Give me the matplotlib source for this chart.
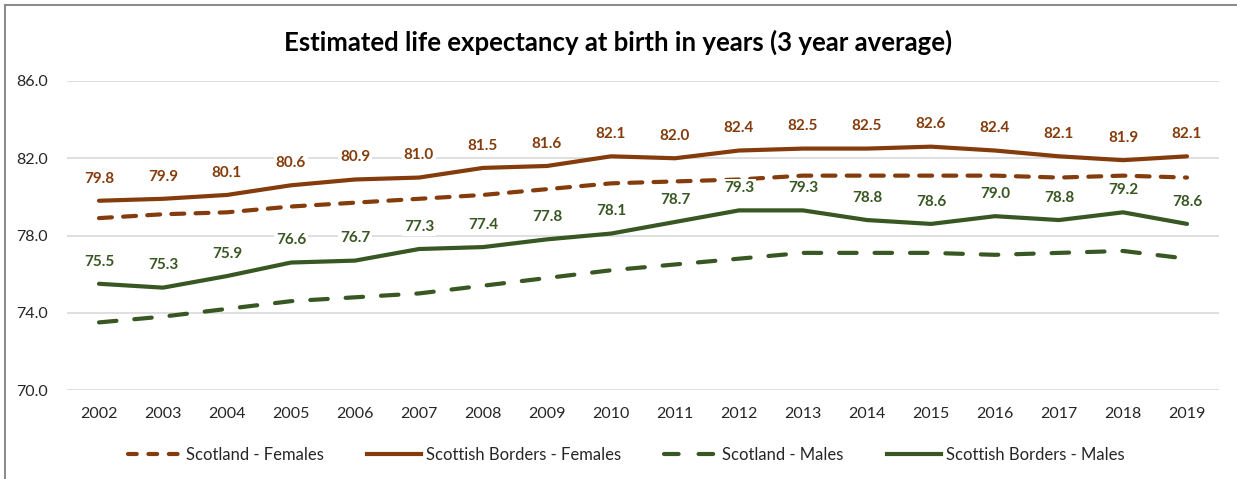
import matplotlib.pyplot as plt
from matplotlib.lines import Line2D

# Data
YEARS = [str(y) for y in range(2002, 2020)]
SCOTLAND_FEMALES = [78.9, 79.1, 79.2, 79.5, 79.7, 79.9, 80.1, 80.4, 80.7, 80.8,
                    80.9, 81.1, 81.1, 81.1, 81.1, 81.0, 81.1, 81.0]
BORDERS_FEMALES = [79.8, 79.9, 80.1, 80.6, 80.9, 81.0, 81.5, 81.6, 82.1, 82.0,
                   82.4, 82.5, 82.5, 82.6, 82.4, 82.1, 81.9, 82.1]
SCOTLAND_MALES = [73.5, 73.8, 74.2, 74.6, 74.8, 75.0, 75.4, 75.8, 76.2, 76.5,
                  76.8, 77.1, 77.1, 77.1, 77.0, 77.1, 77.2, 76.8]
BORDERS_MALES = [75.5, 75.3, 75.9, 76.6, 76.7, 77.3, 77.4, 77.8, 78.1, 78.7,
                 79.3, 79.3, 78.8, 78.6, 79.0, 78.8, 79.2, 78.6]
Y_TICKS = [70.0, 74.0, 78.0, 82.0, 86.0]

BROWN = "#843C0C"
GREEN = "#385723"
FONT = "Lato"

plt.rcParams["font.family"] = [FONT, "DejaVu Sans"]

fig = plt.figure(figsize=(12.37, 4.79), dpi=100)
ax = fig.add_axes([67 / 1237, 1 - 390 / 479, (1219 - 67) / 1237, (390 - 81) / 479])

x = list(range(len(YEARS)))

ax.plot(x, SCOTLAND_FEMALES, color=BROWN, lw=3, dashes=(3.1, 2.7),
        dash_capstyle="round", label="Scotland - Females", zorder=3)
ax.plot(x, BORDERS_FEMALES, color=BROWN, lw=3, solid_capstyle="round",
        label="Scottish Borders - Females", zorder=3)
ax.plot(x, SCOTLAND_MALES, color=GREEN, lw=3, dashes=(4.2, 4.3),
        dash_capstyle="round", label="Scotland - Males", zorder=3)
ax.plot(x, BORDERS_MALES, color=GREEN, lw=3, solid_capstyle="round",
        label="Scottish Borders - Males", zorder=3)

# Data labels with white background, above the Borders lines
for series, color in [(BORDERS_FEMALES, BROWN), (BORDERS_MALES, GREEN)]:
    for xi, v in zip(x, series):
        ax.annotate(f"{v:.1f}", (xi, v), xytext=(0, 16), textcoords="offset points",
                    ha="center", va="center", fontsize=11, fontweight="bold",
                    color=color, zorder=5,
                    bbox=dict(boxstyle="square,pad=0.15", fc="white", ec="none"))

ax.set_xlim(-0.5, len(YEARS) - 0.5)
ax.set_ylim(70, 86)
ax.set_yticks(Y_TICKS)
ax.set_yticklabels([f"{t:.1f}" for t in Y_TICKS])
ax.set_xticks(x)
ax.set_xticklabels(YEARS)
ax.tick_params(length=0, labelsize=11.5, labelcolor="#262626")
ax.tick_params(axis="x", pad=12)
ax.tick_params(axis="y", pad=14)
ax.grid(axis="y", color="#D9D9D9", lw=1.2)
ax.set_axisbelow(True)
for s in ax.spines.values():
    s.set_visible(False)

fig.text(0.5, 1 - 42 / 479, "Estimated life expectancy at birth in years (3 year average)",
         ha="center", va="center", fontsize=18.5, fontweight="bold", color="black")

handles = [
    Line2D([], [], color=BROWN, lw=3, dashes=(2.1, 2.8), dash_capstyle="round"),
    Line2D([], [], color=BROWN, lw=3),
    Line2D([], [], color=GREEN, lw=3, dashes=(3.5, 4.8), dash_capstyle="round"),
    Line2D([], [], color=GREEN, lw=3),
]
labels = ["Scotland - Females", "Scottish Borders - Females",
          "Scotland - Males", "Scottish Borders - Males"]
fig.legend(handles, labels, loc="center", bbox_to_anchor=(626 / 1237, 1 - 455 / 479),
           ncol=4, frameon=False, fontsize=12, handlelength=3.2, handletextpad=0.3,
           columnspacing=2.6, labelcolor="#262626")

# Chart frame (left and top edges visible)
fig.add_artist(Line2D([4.5 / 1237, 4.5 / 1237], [0, 1 - 5 / 479], color="#8C8C8C", lw=1.5))
fig.add_artist(Line2D([4.5 / 1237, 1], [1 - 5 / 479, 1 - 5 / 479], color="#8C8C8C", lw=1.5))

fig.savefig("out.png", dpi=100)
